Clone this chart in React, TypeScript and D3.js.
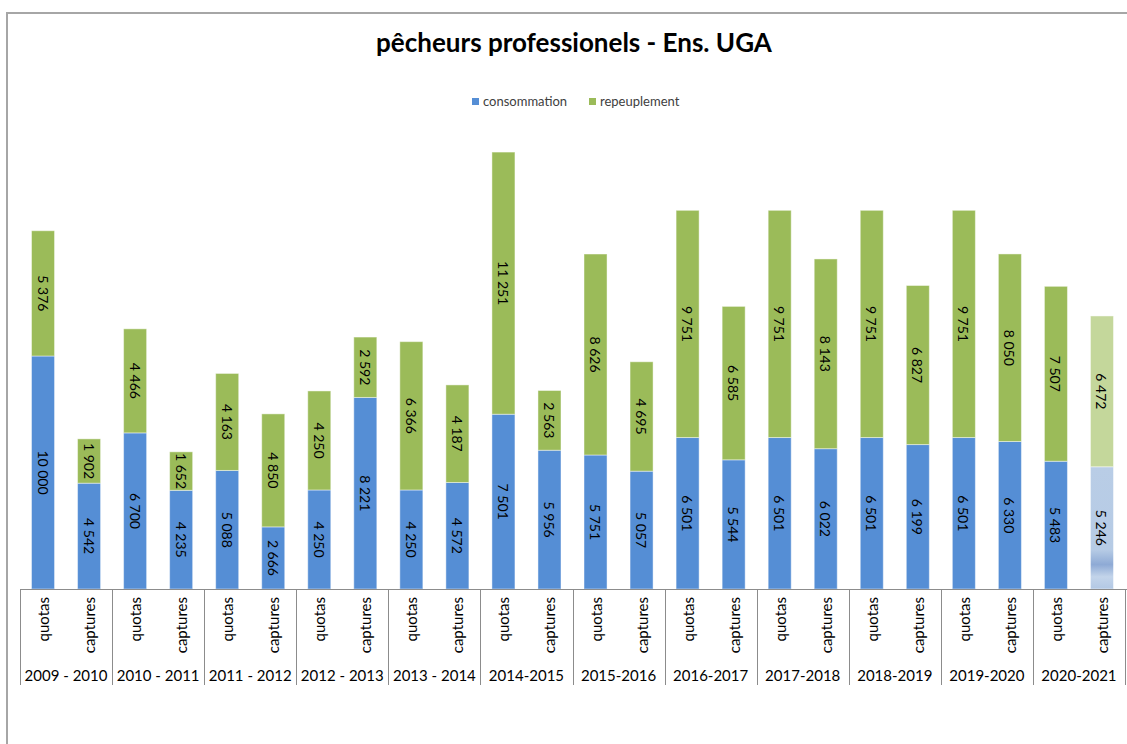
import React, { useRef, useEffect } from "react";
import * as d3 from "d3";

const seasons = [
  "2009 - 2010", "2010 - 2011", "2011 - 2012", "2012 - 2013", "2013 - 2014", "2014-2015",
  "2015-2016", "2016-2017", "2017-2018", "2018-2019", "2019-2020", "2020-2021",
];
const kinds = ["quotas", "captures"];
const seriesNames = ["consommation", "repeuplement"];

const quotasConso = [10000, 6700, 5088, 4250, 4250, 7501, 5751, 6501, 6501, 6501, 6501, 5483];
const quotasRepeup = [5376, 4466, 4163, 4250, 6366, 11251, 8626, 9751, 9751, 9751, 9751, 7507];
const capturesConso = [4542, 4235, 2666, 8221, 4572, 5956, 5057, 5544, 6022, 6199, 6330, 5246];
const capturesRepeup = [1902, 1652, 4850, 2592, 4187, 2563, 4695, 6585, 8143, 6827, 8050, 6472];

const BLUE = "#558ed5";
const GREEN = "#9bbb59";
const FONT = "Lato, 'Open Sans', sans-serif";

const App = () => {
  const ref = useRef<SVGSVGElement>(null);

  useEffect(() => {
    const svg = d3.select(ref.current);
    svg.selectAll("*").remove();

    const fmt = d3.formatLocale({ thousands: "\u00a0", grouping: [3], decimal: ",", currency: ["", ""] }).format(",");

    // rows built from the arrays
    const rows = seasons.flatMap((s, i) => [
      { season: s, kind: "quotas", conso: quotasConso[i], repeup: quotasRepeup[i], last: false },
      { season: s, kind: "captures", conso: capturesConso[i], repeup: capturesRepeup[i], last: i === seasons.length - 1 },
    ]);

    const x0 = d3.scaleBand().domain(seasons).range([20, 1125]);
    const x1 = d3.scaleBand().domain(kinds).range([0, x0.bandwidth()]).paddingInner(0.5).paddingOuter(0.25);
    const y = d3.scaleLinear().domain([0, 20000]).range([589, 123]);

    const stack = d3.stack<any>().keys(["conso", "repeup"]);
    const stacked = stack(rows);

    const defs = svg.append("defs");
    const grad = defs.append("linearGradient").attr("id", "lastBlue").attr("x1", 0).attr("y1", 0).attr("x2", 0).attr("y2", 1);
    grad.append("stop").attr("offset", "0%").attr("stop-color", "#b9cde6");
    grad.append("stop").attr("offset", "68%").attr("stop-color", "#b6cbe5");
    grad.append("stop").attr("offset", "80%").attr("stop-color", "#8eaad5");
    grad.append("stop").attr("offset", "90%").attr("stop-color", "#c3d4ea");
    grad.append("stop").attr("offset", "100%").attr("stop-color", "#b2c8e4");

    // frame
    svg.append("path").attr("d", "M7,744 V13 H1127").attr("fill", "none").attr("stroke", "#a6a6a6").attr("stroke-width", 2);

    // title
    svg.append("text").attr("x", 574).attr("y", 52).attr("text-anchor", "middle")
      .attr("font-family", FONT).attr("font-weight", "bold").attr("font-size", 26).attr("fill", "#000")
      .text("pêcheurs professionels - Ens. UGA");

    // legend
    const legend = svg.append("g").attr("font-family", FONT).attr("font-size", 13);
    const legendItems = [
      { name: seriesNames[0], color: BLUE, x: 472 },
      { name: seriesNames[1], color: GREEN, x: 589 },
    ];
    legendItems.forEach((d) => {
      legend.append("rect").attr("x", d.x).attr("y", 98).attr("width", 7).attr("height", 7).attr("fill", d.color);
      legend.append("text").attr("x", d.x + 11).attr("y", 106).attr("fill", "#404040").text(d.name);
    });

    // bars
    const colors = [BLUE, GREEN];
    const bars = svg.append("g");
    stacked.forEach((layer, li) => {
      bars.selectAll(null)
        .data(layer)
        .join("rect")
        .attr("x", (d: any) => x0(d.data.season)! + x1(d.data.kind)!)
        .attr("width", x1.bandwidth())
        .attr("y", (d: any) => y(d[1]))
        .attr("height", (d: any) => y(d[0]) - y(d[1]))
        .attr("fill", (d: any) => (d.data.last ? (li === 0 ? "url(#lastBlue)" : "#c4d79b") : colors[li]))
        .attr("stroke", "#ffffff")
        .attr("stroke-opacity", 0.45)
        .attr("stroke-width", 1);

      bars.selectAll(null)
        .data(layer)
        .join("text")
        .attr("transform", (d: any) => {
          const cx = x0(d.data.season)! + x1(d.data.kind)! + x1.bandwidth() / 2;
          const cy = (y(d[0]) + y(d[1])) / 2;
          return `translate(${cx},${cy}) rotate(90)`;
        })
        .attr("text-anchor", "middle")
        .attr("dominant-baseline", "central")
        .attr("font-family", FONT)
        .attr("font-size", 14)
        .attr("fill", "#000")
        .text((d: any) => fmt(d[1] - d[0]));
    });

    // category axis
    const axis = svg.append("g").attr("font-family", FONT).attr("fill", "#000");
    axis.append("line").attr("x1", 20).attr("x2", 1127).attr("y1", 589.5).attr("y2", 589.5).attr("stroke", "#8c8c8c");
    const bounds = [...seasons.map((s) => x0(s)!), x0.range()[1]];
    axis.selectAll(null).data(bounds).join("line")
      .attr("x1", (d) => Math.round(d) + 0.5).attr("x2", (d) => Math.round(d) + 0.5)
      .attr("y1", 589).attr("y2", 685).attr("stroke", "#8c8c8c");

    axis.selectAll(null).data(rows).join("text")
      .attr("transform", (d) => `translate(${x0(d.season)! + x1(d.kind)! + x1.bandwidth() / 2},597) rotate(-90)`)
      .attr("text-anchor", "end")
      .attr("dominant-baseline", "central")
      .attr("font-size", 15)
      .text((d) => d.kind);

    axis.selectAll(null).data(seasons).join("text")
      .attr("x", (d) => x0(d)! + x0.bandwidth() / 2)
      .attr("y", 681)
      .attr("text-anchor", "middle")
      .attr("font-size", 15)
      .text((d) => d);
  }, []);

  return (
    <div style={{ position: "absolute", left: 0, top: 0 }}>
      <svg ref={ref} width={1127} height={744} style={{ display: "block", background: "#fff" }}></svg>
    </div>
  );
};

export default App;
